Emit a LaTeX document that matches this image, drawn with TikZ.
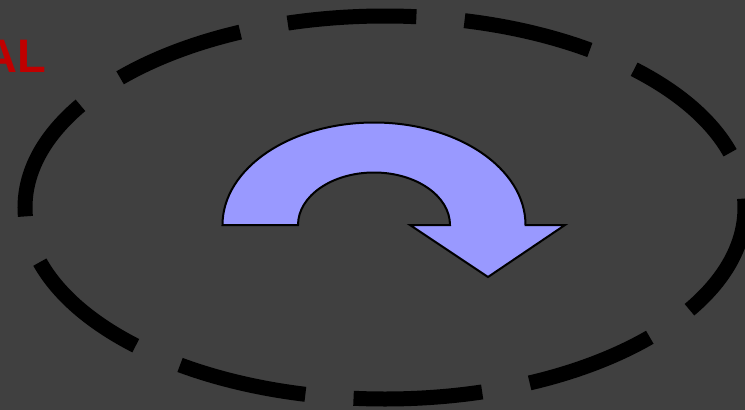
\documentclass[tikz,border=0pt]{standalone}
\usepackage{fontspec}
\setmainfont{Liberation Sans}
\definecolor{bgcol}{HTML}{404040}
\definecolor{arrowfill}{HTML}{9999FF}
\definecolor{labelred}{HTML}{C00000}
\tikzset{
  ringline/.style={draw=black, line width=15pt, line cap=butt,
    dash pattern=on 129pt off 48.33pt, dash phase=120pt},
  turnarrow/.style={draw=black, line width=2pt, fill=arrowfill, line join=miter},
  redlabel/.style={text=labelred, font=\bfseries\fontsize{47}{47}\selectfont, inner sep=0pt}
}
\begin{document}
\begin{tikzpicture}[x=1pt, y=1pt]
  \fill[bgcol] (0,0) rectangle (745,-410);
  \useasboundingbox (0,0) rectangle (745,-410);
  % dashed ellipse
  \coordinate (ringc) at (385,-207.5);
  \draw[ringline] (ringc) ellipse [x radius=360, y radius=191.5];
  % curved arrow
  \coordinate (arcc) at (374,-225);
  \draw[turnarrow] (222.5,-225)
      arc [start angle=180, end angle=0, x radius=151.5, y radius=102.5]
      -- (565,-225) -- (488,-277) -- (410,-225) -- (450,-225)
      arc [start angle=0, end angle=180, x radius=76, y radius=52.5]
      -- cycle;
  % partially visible label
  \node[redlabel, anchor=base east] (lbl) at (46,-72.3) {AL};
\end{tikzpicture}
\end{document}
